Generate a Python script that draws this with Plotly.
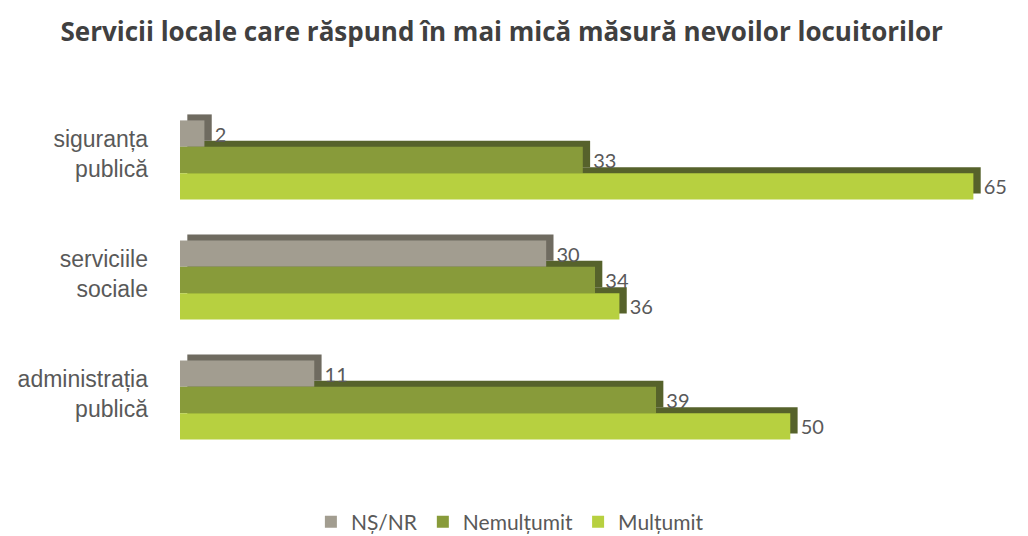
import plotly.graph_objects as go

categories = ["administrația<br>publică", "serviciile<br>sociale", "siguranța<br>publică"]
series_names = ["NȘ/NR", "Nemulțumit", "Mulțumit"]
ns_nr = [11, 30, 2]
nemultumit = [39, 34, 33]
multumit = [50, 36, 65]

front_colors = ["#a29d90", "#889b3a", "#b7d040"]
shadow_colors = ["#6f6b60", "#56622b", "#56622b"]
offsets = [0.11, -0.11, -0.33]
bar_w = 0.22
depth_x = 0.6
depth_y = 0.05

values = [ns_nr, nemultumit, multumit]

fig = go.Figure()

# 3D depth (shadow) bars
for i in [2, 1, 0]:
    fig.add_trace(go.Bar(
        y=categories, x=values[i], base=depth_x, orientation="h",
        offset=offsets[i] + depth_y, width=bar_w,
        marker=dict(color=shadow_colors[i], line=dict(width=0)),
        showlegend=False, hoverinfo="skip",
    ))

# front faces
for i in range(3):
    fig.add_trace(go.Bar(
        y=categories, x=values[i], orientation="h", name=series_names[i],
        offset=offsets[i], width=bar_w,
        marker=dict(color=front_colors[i], line=dict(width=0)),
    ))

# value labels (transparent carriers, placed after the depth side)
for i in range(3):
    fig.add_trace(go.Bar(
        y=categories, x=values[i], base=depth_x, orientation="h",
        offset=offsets[i], width=bar_w,
        marker=dict(color="rgba(0,0,0,0)", line=dict(width=0)),
        text=[str(v) for v in values[i]], textposition="outside",
        textfont=dict(family="Lato, Open Sans, sans-serif", size=20, color="#595959"),
        cliponaxis=False, showlegend=False, hoverinfo="skip",
    ))

fig.update_layout(
    barmode="overlay",
    width=1028, height=536,
    paper_bgcolor="white", plot_bgcolor="white",
    margin=dict(l=180, r=18, t=100, b=76, autoexpand=False),
    title=dict(
        text="<b>Servicii locale care răspund în mai mică măsură nevoilor locuitorilor</b>",
        x=0.488, xanchor="center", y=0.94, yanchor="middle",
        font=dict(family="Open Sans, Lato, sans-serif", size=26, color="#404040"),
    ),
    xaxis=dict(range=[0, 68], visible=False, showgrid=False, zeroline=False),
    yaxis=dict(
        categoryorder="array", categoryarray=categories, range=[-0.5, 2.5],
        showgrid=False, zeroline=False, showline=False, ticks="",
        automargin=False, ticklabelstandoff=31, ticklabelshift=-6,
        tickfont=dict(family="Liberation Sans, Arial, sans-serif", size=23, color="#595959"),
    ),
    legend=dict(
        orientation="h", xref="container", x=0.496, xanchor="center",
        yref="container", y=0.026, yanchor="middle",
        font=dict(family="Lato, Open Sans, sans-serif", size=21, color="#595959"),
        traceorder="normal",
    ),
    showlegend=True,
)

fig.write_html(
    "out.html",
    config={"displayModeBar": False},
    post_script="document.body.style.margin='0';document.body.style.overflow='hidden';",
)
